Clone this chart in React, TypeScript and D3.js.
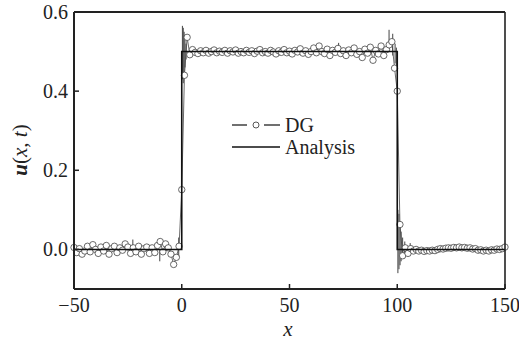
import React from "react";
import * as d3 from "d3";

// DG nodal grid: x = -50 ... 150, step 1.25
const dgStart = -50;
const dgStep = 1.25;
const dgLeft = [
  0.005, -0.008, 0.002, -0.012, -0.004, 0.008, -0.006, 0.012, 0.0, -0.01,
  0.006, -0.004, 0.01, -0.012, 0.002, 0.008, -0.008, 0.004, -0.002, 0.014,
  0.006, -0.01, 0.004, -0.006, 0.008, -0.012, 0.002, 0.006, -0.01, 0.004,
  -0.008, 0.01, 0.02, -0.006, 0.014, 0.004, -0.012, -0.038, -0.02, 0.008,
];
const dgJumpUp = [0.151, 0.44, 0.536, 0.492, 0.505];
const dgPlateau = [
  0.498, 0.495, 0.502, 0.497, 0.503, 0.496, 0.5, 0.504, 0.497, 0.501,
  0.498, 0.503, 0.496, 0.502, 0.499, 0.504, 0.496, 0.5, 0.497, 0.503,
  0.498, 0.502, 0.495, 0.501, 0.505, 0.497, 0.5, 0.496, 0.503, 0.499,
  0.494, 0.502, 0.498, 0.505, 0.497, 0.501, 0.494, 0.503, 0.499, 0.507,
  0.496, 0.502, 0.493, 0.5, 0.509, 0.497, 0.514, 0.5, 0.495, 0.506,
  0.49, 0.503, 0.498, 0.508, 0.495, 0.502, 0.49, 0.504, 0.497, 0.509,
  0.493, 0.5, 0.485, 0.506, 0.496, 0.511, 0.478, 0.503, 0.494, 0.514,
  0.49, 0.505, 0.517,
];
const dgJumpDown = [0.525, 0.458, 0.4, 0.063, -0.016, 0.004, -0.01, 0.002];
const dgRight = [
  -0.004, 0.0, -0.004, -0.002, -0.005, -0.003, -0.004, -0.002, -0.003, 0.0,
  0.002, 0.001, 0.003, 0.004, 0.003, 0.005, 0.004, 0.006, 0.004, 0.005,
  0.003, 0.004, 0.001, 0.002, -0.002, -0.001, -0.004, -0.002, -0.004, -0.001,
  -0.002, 0.001, 0.0, 0.002, 0.006,
];
const dgValues = [...dgLeft, ...dgJumpUp, ...dgPlateau, ...dgJumpDown, ...dgRight];

// Intra-element oscillations of the DG solution: [x, yMin, yMax]
const dgSpikes: [number, number, number][] = [
  [-38.5, -0.018, 0.002], [-22.7, 0.0, 0.025], [-10.2, -0.03, 0.0],
  [-1.4, -0.02, 0.03], [0.3, 0.43, 0.565], [0.7, 0.42, 0.56],
  [1.1, 0.44, 0.55], [1.5, 0.46, 0.535], [2.0, 0.48, 0.52],
  [45.5, 0.49, 0.508], [63, 0.49, 0.512], [72.8, 0.49, 0.522],
  [77, 0.488, 0.51], [96.2, 0.503, 0.555], [97.9, 0.49, 0.545],
  [99.0, 0.47, 0.52], [99.6, 0.46, 0.51], [100.3, -0.06, 0.1],
  [100.8, -0.05, 0.09], [101.3, -0.04, 0.065], [101.8, -0.03, 0.045],
  [102.5, -0.02, 0.03], [103.5, -0.01, 0.02], [106, -0.002, 0.016],
];

// Analytical solution (step pulse)
const anaX = [-50, 0, 0, 100, 100, 150];
const anaY = [0, 0, 0.5, 0.5, 0, 0];

const xTicks = [-50, 0, 50, 100, 150];
const yTicks = [0.0, 0.2, 0.4, 0.6];

const W = 519;
const H = 342;
const M = { left: 74, top: 12, right: 505, bottom: 289 };
const INK = "#222";
const txt = { fontFamily: "Liberation Serif" } as React.CSSProperties;

export default function App() {
  const x = d3.scaleLinear().domain([-50, 150]).range([M.left, M.right]);
  const y = d3.scaleLinear().domain([-0.1, 0.6]).range([M.bottom, M.top]);
  const pts = dgValues.map((v, i) => [dgStart + i * dgStep, v] as [number, number]);
  const line = d3.line<[number, number]>().x((d) => x(d[0])).y((d) => y(d[1]));
  const ana = anaX.map((v, i) => [v, anaY[i]] as [number, number]);

  return (
    <svg width={W} height={H} style={{ position: "absolute", left: 0, top: 0, background: "#fff" }}>
      <rect x={0} y={0} width={W} height={H} fill="#fff" />
      {/* DG line */}
      <path d={line(pts) || ""} fill="none" stroke="#444" strokeWidth={0.8} />
      {dgSpikes.map((s, i) => (
        <line key={"s" + i} x1={x(s[0])} x2={x(s[0])} y1={y(s[1])} y2={y(s[2])} stroke="#444" strokeWidth={1} />
      ))}
      {pts.map((p, i) => (
        <circle key={"c" + i} cx={x(p[0])} cy={y(p[1])} r={3.2} fill="#fff" stroke="#444" strokeWidth={0.8} />
      ))}
      {/* analytical */}
      <path d={line(ana) || ""} fill="none" stroke="#111" strokeWidth={1.6} />
      {/* frame */}
      <line x1={M.left} x2={M.right} y1={M.top} y2={M.top} stroke={INK} strokeWidth={1.8} />
      <line x1={M.right} x2={M.right} y1={M.top} y2={M.bottom} stroke={INK} strokeWidth={1.6} />
      <line x1={M.left} x2={M.right} y1={M.bottom} y2={M.bottom} stroke={INK} strokeWidth={2} />
      <line x1={M.left} x2={M.left} y1={M.top} y2={M.bottom} stroke={INK} strokeWidth={2} />
      {xTicks.map((t) => (
        <g key={"xt" + t}>
          <line x1={x(t)} x2={x(t)} y1={M.bottom} y2={M.bottom - 5} stroke={INK} strokeWidth={1.5} />
          <text x={x(t)} y={312} textAnchor="middle" style={txt} fontSize={20} fill={INK}>
            {t < 0 ? "\u2212" + Math.abs(t) : String(t)}
          </text>
        </g>
      ))}
      {yTicks.map((t) => (
        <g key={"yt" + t}>
          <line x1={M.left} x2={M.left + 5} y1={y(t)} y2={y(t)} stroke={INK} strokeWidth={1.5} />
          <text x={68} y={y(t) + 7} textAnchor="end" style={txt} fontSize={20} fill={INK}>
            {t.toFixed(1)}
          </text>
        </g>
      ))}
      {/* axis titles */}
      <text x={288} y={336} textAnchor="middle" style={txt} fontSize={21} fontStyle="italic" fill={INK}>
        x
      </text>
      <text
        transform="translate(27,150) rotate(-90)"
        textAnchor="middle"
        style={txt}
        fontSize={21}
        fill={INK}
      >
        <tspan fontStyle="italic" fontWeight="bold">u</tspan>
        <tspan>(</tspan>
        <tspan fontStyle="italic">x</tspan>
        <tspan>, </tspan>
        <tspan fontStyle="italic">t</tspan>
        <tspan>)</tspan>
      </text>
      {/* legend */}
      <line x1={232} x2={247} y1={125} y2={125} stroke={INK} strokeWidth={1.3} />
      <circle cx={256} cy={125} r={3} fill="#fff" stroke="#444" strokeWidth={0.9} />
      <line x1={264} x2={280} y1={125} y2={125} stroke={INK} strokeWidth={1.3} />
      <text x={285} y={132} style={txt} fontSize={20} fill={INK}>DG</text>
      <line x1={232} x2={280} y1={147} y2={147} stroke="#111" strokeWidth={1.6} />
      <text x={285} y={154} style={txt} fontSize={20} fill={INK}>Analysis</text>
    </svg>
  );
}
